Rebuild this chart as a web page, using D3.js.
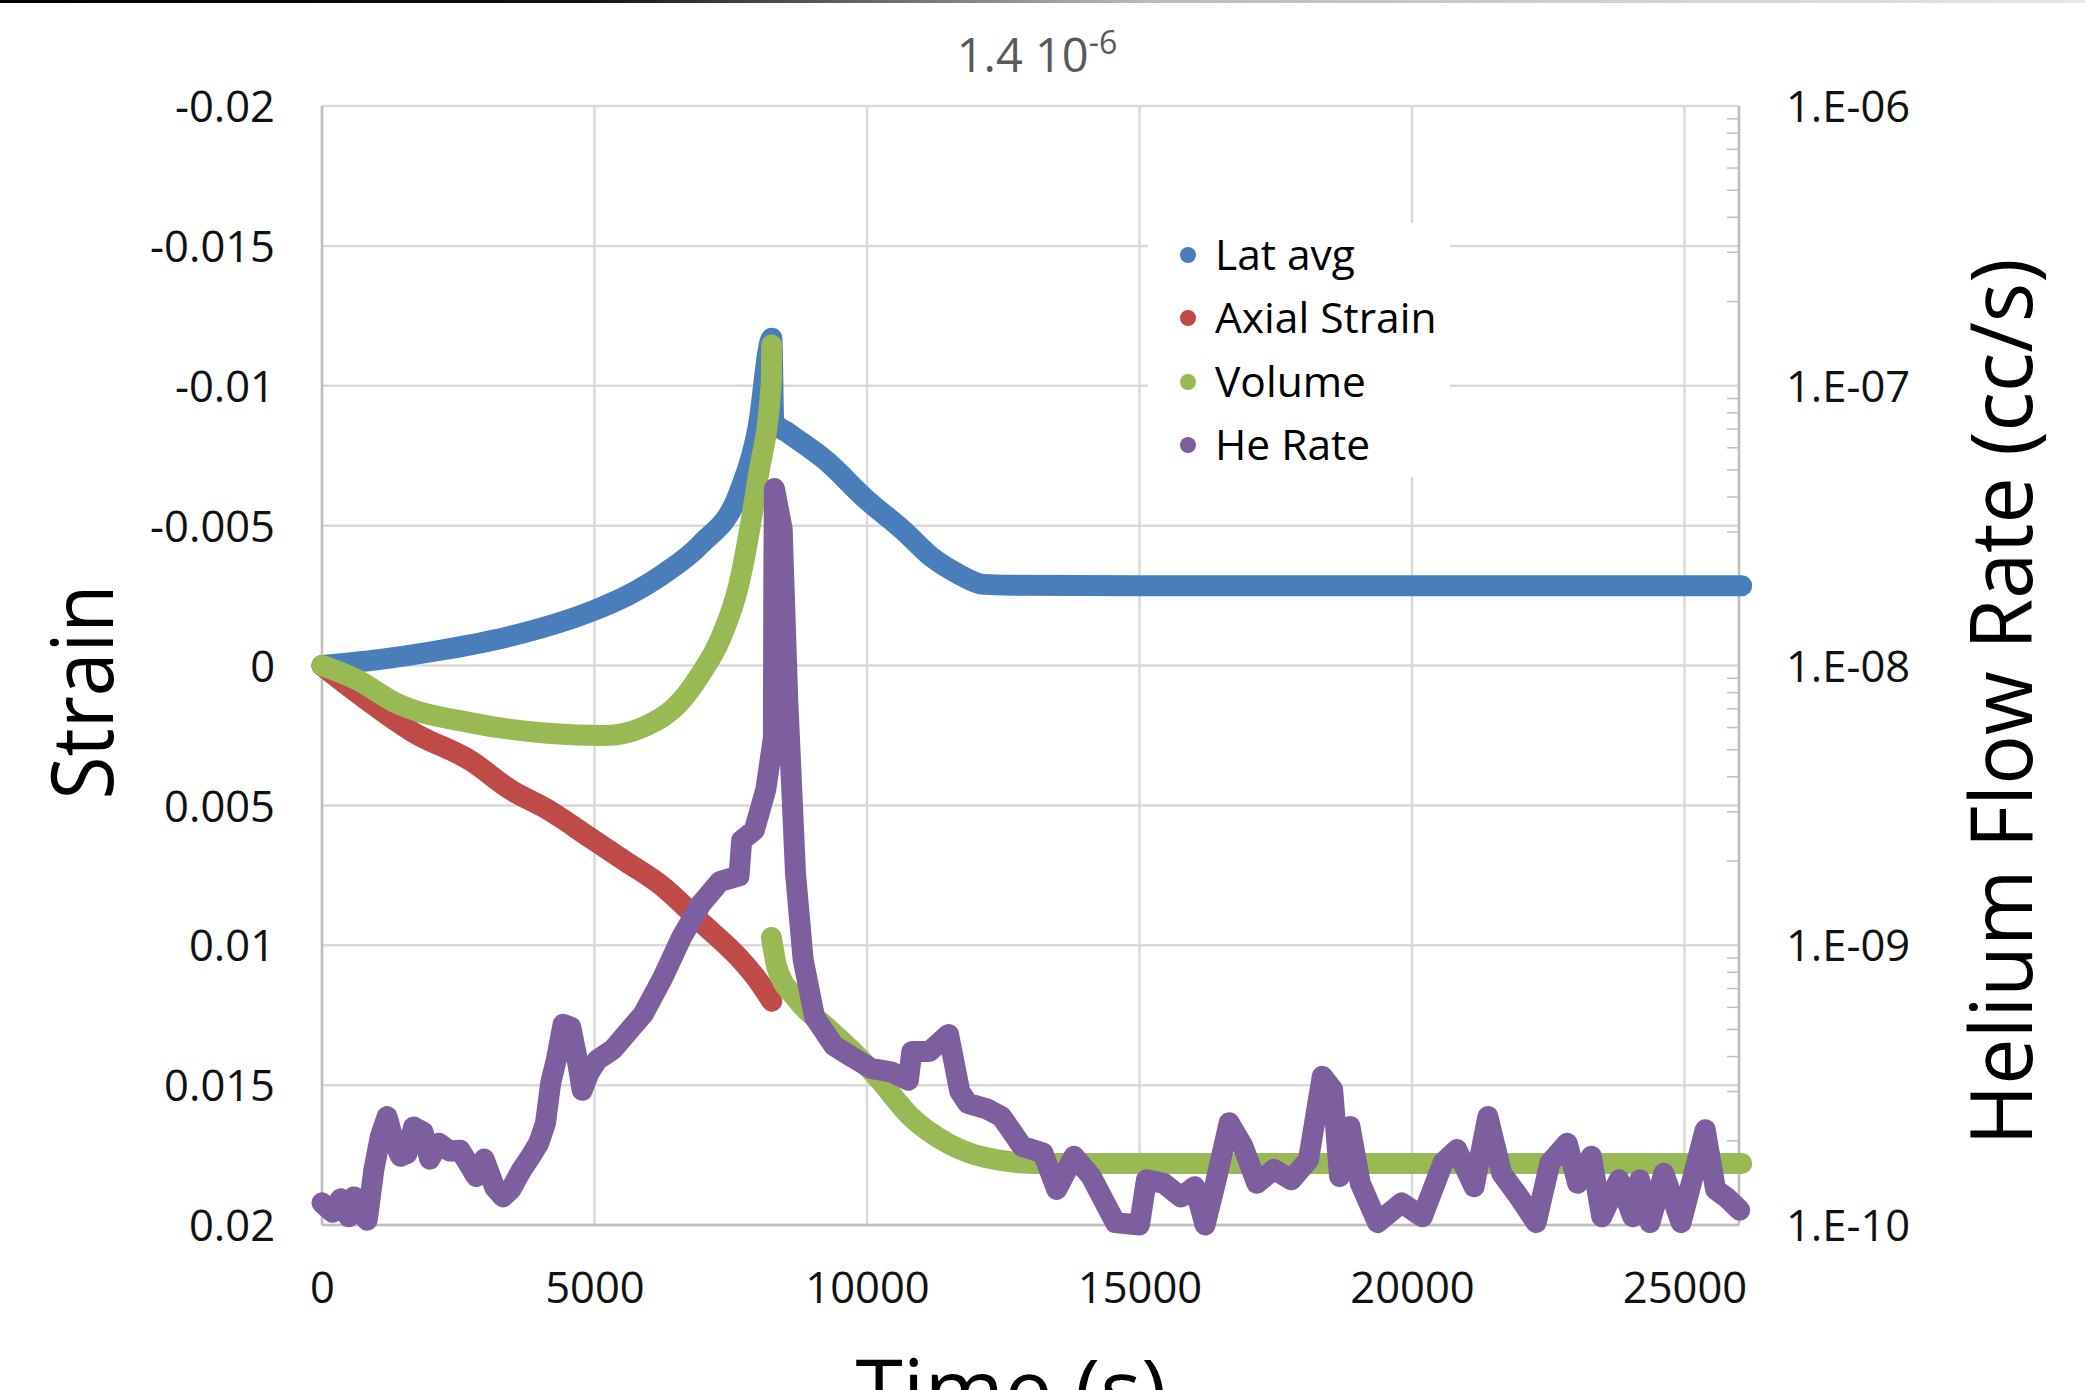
<!DOCTYPE html>
<html><head><meta charset="utf-8">
<script src="https://cdn.jsdelivr.net/npm/d3@7"></script>
<style>html,body{margin:0;padding:0;background:#fff;} svg{display:block;font-family:"Open Sans",sans-serif;}</style>
</head><body><svg id="c" width="2085" height="1390"></svg>
<script>
// ---- data ----
const strainTicks = [-0.02, -0.015, -0.01, -0.005, 0, 0.005, 0.01, 0.015, 0.02];
const strainTickLabels = ["-0.02", "-0.015", "-0.01", "-0.005", "0", "0.005", "0.01", "0.015", "0.02"];
const rateTicks = [1e-6, 1e-7, 1e-8, 1e-9, 1e-10];
const rateTickLabels = ["1.E-06", "1.E-07", "1.E-08", "1.E-09", "1.E-10"];
const timeTicks = [0, 5000, 10000, 15000, 20000, 25000];
const timeTickLabels = ["0", "5000", "10000", "15000", "20000", "25000"];
const seriesNames = ["Lat avg", "Axial Strain", "Volume", "He Rate"];
const seriesColors = ["#4a7ebb", "#be4b48", "#98b954", "#7d5fa0"];

const latTime   = [0, 1000, 2036, 3448, 4989, 5600, 6255, 6952, 7649, 8000, 8254, 8290, 8565, 9263, 9950, 10683, 11170, 11650, 12140, 12640, 15000, 20000, 26050];
const latStrain = [0, -0.0002, -0.0005, -0.00104, -0.00197, -0.0025, -0.00326, -0.00434, -0.00616, -0.0085, -0.0117, -0.0087, -0.0083, -0.0073, -0.0060, -0.0048, -0.0039, -0.0033, -0.0029, -0.00287, -0.00285, -0.00285, -0.00285];

const axTime   = [0, 633, 1687, 2740, 3450, 4140, 4989, 5543, 6250, 6950, 7652, 8000, 8254];
const axStrain = [0, 0.00096, 0.0024, 0.00342, 0.00443, 0.00515, 0.00625, 0.00697, 0.0079, 0.00917, 0.01045, 0.01126, 0.0120];

const volTime   = [0, 633, 1335, 2737, 4140, 5193, 5895, 6596, 6950, 7298, 7649, 8000, 8246, 8250, null, 8246, 8351, 8702, 9300, 9947, 10235, 10790, 11494, 12195, 13122, 15000, 20000, 26050];
const volStrain = [0, 0.0005, 0.00132, 0.00205, 0.00242, 0.0025, 0.0022, 0.00125, 0.0003, -0.0009, -0.0029, -0.00671, -0.01018, -0.01146, null, 0.00972, 0.01081, 0.01191, 0.0130, 0.01421, 0.01483, 0.0161, 0.01709, 0.0176, 0.0178, 0.0178, 0.0178, 0.0178];

const heTime = [0, 195, 340, 490, 585, 710, 830, 950, 1070, 1195, 1315, 1440, 1560, 1680, 1855, 1975, 2145, 2340, 2535, 2685, 2830, 2975, 3170, 3320, 3465, 3660, 3830, 3975, 4100, 4195, 4300, 4424, 4565, 4667, 4774, 4900, 5055, 5337, 5899, 6249, 6600, 6950, 7302, 7652, 7700, 7933, 8144, 8282, 8290, 8301, 8443, 8547, 8688, 8828, 9039, 9391, 9740, 10088, 10437, 10760, 10822, 11145, 11497, 11703, 11849, 12197, 12468, 12848, 13228, 13481, 13797, 14114, 14557, 15000, 15127, 15443, 15759, 16013, 16203, 16392, 16646, 16899, 17152, 17468, 17785, 18101, 18354, 18544, 18671, 18861, 19051, 19367, 19810, 20190, 20570, 20823, 21139, 21392, 21646, 21962, 22278, 22532, 22848, 23038, 23291, 23481, 23797, 24051, 24177, 24367, 24620, 24937, 25380, 25570, 25759, 26013];
const heRate = [1.2e-10, 1.11e-10, 1.24e-10, 1.07e-10, 1.26e-10, 1.11e-10, 1.04e-10, 1.57e-10, 2.07e-10, 2.44e-10, 2.0e-10, 1.76e-10, 1.8e-10, 2.24e-10, 2.15e-10, 1.72e-10, 1.96e-10, 1.84e-10, 1.85e-10, 1.66e-10, 1.49e-10, 1.72e-10, 1.36e-10, 1.26e-10, 1.34e-10, 1.57e-10, 1.76e-10, 1.96e-10, 2.31e-10, 3.21e-10, 3.9e-10, 5.22e-10, 5.1e-10, 4.06e-10, 3.03e-10, 3.5e-10, 3.9e-10, 4.24e-10, 5.69e-10, 7.63e-10, 1.07e-9, 1.4e-9, 1.69e-9, 1.77e-9, 2.37e-9, 2.58e-9, 3.61e-9, 5.5e-9, 2.0e-8, 4.29e-8, 3.08e-8, 7.46e-9, 1.81e-9, 8.89e-10, 5.53e-10, 4.38e-10, 3.97e-10, 3.62e-10, 3.53e-10, 3.29e-10, 4.17e-10, 4.17e-10, 4.8e-10, 3.0e-10, 2.72e-10, 2.6e-10, 2.44e-10, 1.91e-10, 1.81e-10, 1.34e-10, 1.76e-10, 1.49e-10, 1.02e-10, 1.0e-10, 1.45e-10, 1.41e-10, 1.26e-10, 1.37e-10, 1.0e-10, 1.41e-10, 2.32e-10, 1.91e-10, 1.41e-10, 1.58e-10, 1.45e-10, 1.71e-10, 3.4e-10, 3.05e-10, 1.49e-10, 2.25e-10, 1.41e-10, 1.02e-10, 1.2e-10, 1.07e-10, 1.67e-10, 1.86e-10, 1.37e-10, 2.44e-10, 1.53e-10, 1.26e-10, 1.02e-10, 1.67e-10, 1.96e-10, 1.41e-10, 1.76e-10, 1.07e-10, 1.45e-10, 1.07e-10, 1.45e-10, 1.02e-10, 1.53e-10, 1.02e-10, 2.19e-10, 1.34e-10, 1.26e-10, 1.13e-10];

// ---- layout ----
const L = 322, R = 1739, T = 106, B = 1225;
const svg = d3.select("#c");

const defs = svg.append("defs");
const grad = defs.append("linearGradient").attr("id", "topbar");
grad.append("stop").attr("offset", "0%").attr("stop-color", "#000");
grad.append("stop").attr("offset", "28%").attr("stop-color", "#111");
grad.append("stop").attr("offset", "55%").attr("stop-color", "#bbb");
grad.append("stop").attr("offset", "100%").attr("stop-color", "#e6e6e6");
svg.append("rect").attr("x", 0).attr("y", 0).attr("width", 2085).attr("height", 3).attr("fill", "url(#topbar)");

const x = d3.scaleLinear().domain([0, 26000]).range([L, R]);
const yL = d3.scaleLinear().domain([-0.02, 0.02]).range([T, B]);
const yR = d3.scaleLog().domain([1e-10, 1e-6]).range([B, T]);

const gridColor = "#d9d9d9";
svg.append("g").selectAll("line").data(strainTicks).join("line")
  .attr("x1", L).attr("x2", R).attr("y1", d => yL(d)).attr("y2", d => yL(d))
  .attr("stroke", gridColor).attr("stroke-width", 2.5);
svg.append("g").selectAll("line").data(timeTicks.concat([26000])).join("line")
  .attr("x1", d => x(d)).attr("x2", d => x(d)).attr("y1", T).attr("y2", B)
  .attr("stroke", gridColor).attr("stroke-width", 2.5);

const minor = [];
for (let e = -10; e < -6; e++) for (let k = 2; k <= 9; k++) minor.push(k * Math.pow(10, e));
svg.append("g").selectAll("line").data(minor).join("line")
  .attr("x1", R - 12).attr("x2", R).attr("y1", d => yR(d)).attr("y2", d => yR(d))
  .attr("stroke", "#bfbfbf").attr("stroke-width", 1.5);
svg.append("line").attr("x1", R).attr("x2", R).attr("y1", T).attr("y2", B).attr("stroke", "#bfbfbf").attr("stroke-width", 2.5);
svg.append("line").attr("x1", L).attr("x2", L).attr("y1", T).attr("y2", B).attr("stroke", "#bfbfbf").attr("stroke-width", 2.5);
svg.append("line").attr("x1", L).attr("x2", R).attr("y1", B).attr("y2", B).attr("stroke", "#bfbfbf").attr("stroke-width", 2.5);

const fs = 43.5;
const axL = svg.append("g").attr("transform", `translate(${L},0)`)
  .call(d3.axisLeft(yL).tickValues(strainTicks).tickFormat((d, i) => strainTickLabels[i]).tickSize(0).tickPadding(47));
const axR = svg.append("g").attr("transform", `translate(${R},0)`)
  .call(d3.axisRight(yR).tickValues(rateTicks).tickFormat((d, i) => rateTickLabels[i]).tickSize(0).tickPadding(47));
const axB = svg.append("g").attr("transform", `translate(0,${B})`)
  .call(d3.axisBottom(x).tickValues(timeTicks).tickFormat((d, i) => timeTickLabels[i]).tickSize(0).tickPadding(47));
[axL, axR, axB].forEach(g => {
  g.select(".domain").remove();
  g.selectAll("text").attr("font-family", "Open Sans").attr("font-size", fs).attr("fill", "#111");
});
axL.selectAll("text").attr("dy", "0.36em");
axR.selectAll("text").attr("dy", "0.36em");
axB.selectAll("text").attr("dy", "0.71em");

svg.append("text").attr("transform", "translate(113,692) rotate(-90)").attr("text-anchor", "middle")
  .attr("font-size", 86).attr("textLength", 215).attr("lengthAdjust", "spacingAndGlyphs").attr("fill", "#000").text("Strain");
svg.append("text").attr("transform", "translate(2032,702) rotate(-90)").attr("text-anchor", "middle")
  .attr("font-size", 86).attr("textLength", 887).attr("lengthAdjust", "spacingAndGlyphs").attr("fill", "#000").text("Helium Flow Rate (cc/s)");
svg.append("text").attr("x", 1011).attr("y", 1421).attr("text-anchor", "middle")
  .attr("font-size", 86).attr("fill", "#000").text("Time (s)");

const title = svg.append("text").attr("x", 1037).attr("y", 72).attr("text-anchor", "middle").attr("fill", "#595959").attr("font-size", 47);
title.append("tspan").text("1.4 10");
title.append("tspan").attr("dy", -18).attr("font-size", 32).text("-6");

const plot = svg.append("g");
function drawSeries(ts, vs, yScale, color, curve, w) {
  const pts = ts.map((t, i) => [t, vs[i]]);
  const line = d3.line().defined(d => d[0] != null && d[1] != null).x(d => x(d[0])).y(d => yScale(d[1])).curve(curve);
  plot.append("path").attr("d", line(pts)).attr("fill", "none").attr("stroke", color)
    .attr("stroke-width", w).attr("stroke-linecap", "round").attr("stroke-linejoin", "round");
}
drawSeries(latTime, latStrain, yL, seriesColors[0], d3.curveMonotoneX, 21);
drawSeries(axTime, axStrain, yL, seriesColors[1], d3.curveMonotoneX, 21);
drawSeries(volTime, volStrain, yL, seriesColors[2], d3.curveMonotoneX, 21);
drawSeries(heTime, heRate, yR, seriesColors[3], d3.curveLinear, 21);

const lg = svg.append("g");
lg.append("rect").attr("x", 1148).attr("y", 223).attr("width", 302).attr("height", 254).attr("fill", "#fff");
const rowsY = [255, 318, 382, 445];
seriesNames.forEach((n, i) => {
  lg.append("circle").attr("cx", 1188).attr("cy", rowsY[i]).attr("r", 8).attr("fill", seriesColors[i]);
  lg.append("text").attr("x", 1215).attr("y", rowsY[i]).attr("dy", "0.36em").attr("font-size", 42.5).attr("fill", "#000").text(n);
});
</script>
</body></html>
